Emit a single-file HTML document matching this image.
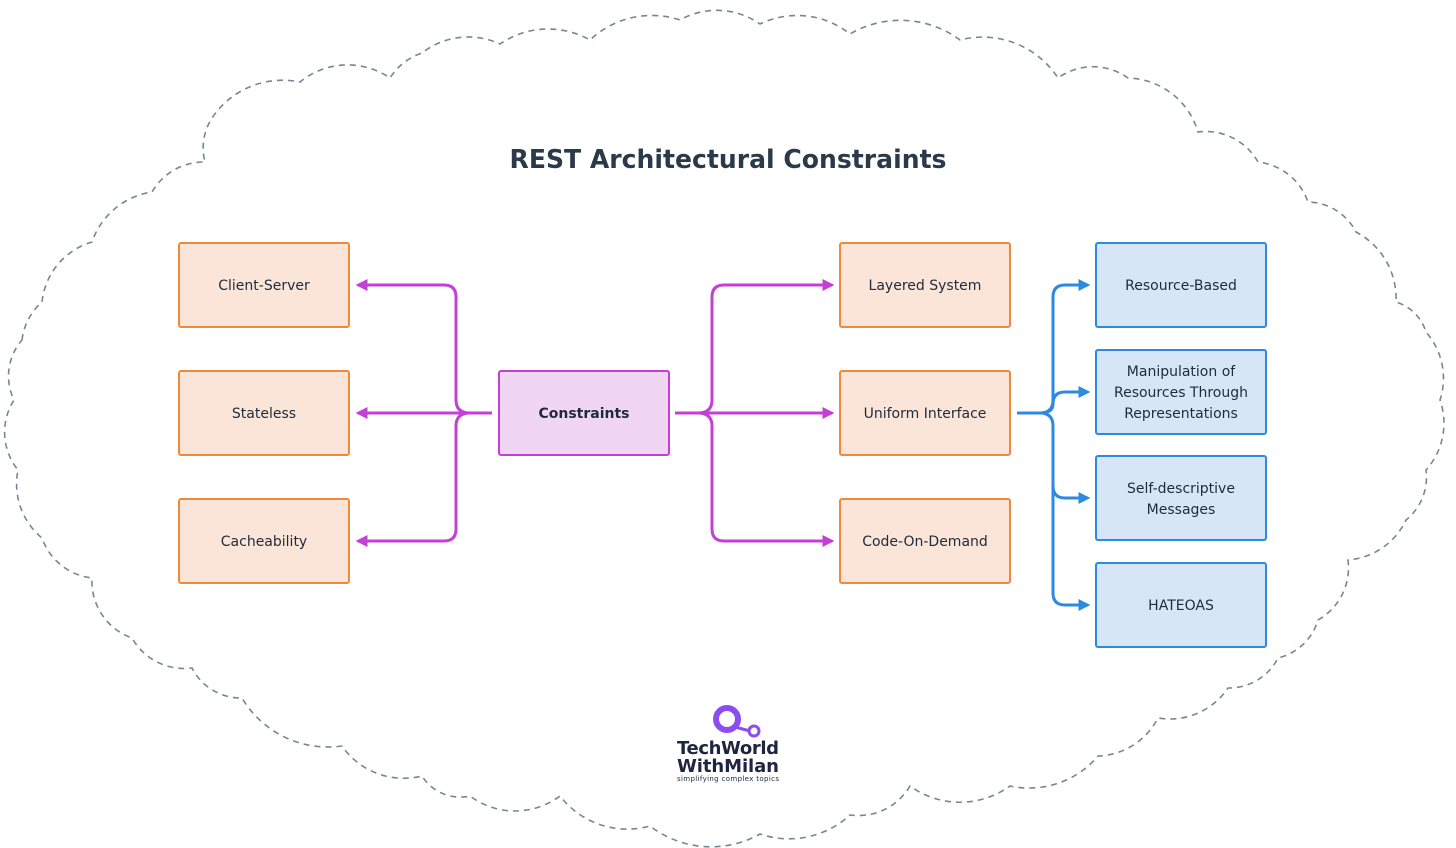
<!DOCTYPE html>
<html><head><meta charset="utf-8"><style>
html,body{margin:0;padding:0;background:#fff;}
svg{display:block;}
text{font-family:"DejaVu Sans","Liberation Sans",sans-serif;fill:#1f2b3a;}
</style></head><body>
<svg width="1456" height="848" viewBox="0 0 1456 848" xmlns="http://www.w3.org/2000/svg">
<defs>
<marker id="ap" viewBox="0 0 10 10" refX="8" refY="5" markerWidth="4" markerHeight="4" orient="auto-start-reverse"><path d="M0,0 L10,5 L0,10 z" fill="#c43fd6"/></marker>
<marker id="ab" viewBox="0 0 10 10" refX="8" refY="5" markerWidth="4" markerHeight="4" orient="auto-start-reverse"><path d="M0,0 L10,5 L0,10 z" fill="#2e8ae0"/></marker>
</defs>
<path fill="none" stroke="#7a8594" stroke-width="1.6" stroke-dasharray="6,5" d="
M22,340 A60,60 0 0 1 42,302 A70,70 0 0 1 92,242 A75,75 0 0 1 152,192 A60,60 0 0 1 205,162 A55,55 0 0 1 212,118 A85,85 0 0 1 300,82 A75,75 0 0 1 390,78 A60,60 0 0 1 422,53 A75,75 0 0 1 500,44 A85,85 0 0 1 590,40 A90,90 0 0 1 680,20 A75,75 0 0 1 760,24 A85,85 0 0 1 850,34 A100,100 0 0 1 960,40 A90,90 0 0 1 1058,78 A60,60 0 0 1 1128,78 A75,75 0 0 1 1198,132 A60,60 0 0 1 1258,162 A60,60 0 0 1 1308,202 A55,55 0 0 1 1356,232 A75,75 0 0 1 1396,302 A45,45 0 0 1 1426,332 A70,70 0 0 1 1440,400 A70,70 0 0 1 1426,470 A55,55 0 0 1 1406,520 A70,70 0 0 1 1348,560 A60,60 0 0 1 1318,620 A55,55 0 0 1 1278,658 A55,55 0 0 1 1228,688 A70,70 0 0 1 1158,718 A70,70 0 0 1 1098,756 A90,90 0 0 1 1010,786 A85,85 0 0 1 910,786 A60,60 0 0 1 850,815 A90,90 0 0 1 760,834 A100,100 0 0 1 650,826 A85,85 0 0 1 560,796 A75,75 0 0 1 470,796 A45,45 0 0 1 422,776 A75,75 0 0 1 342,746 A100,100 0 0 1 242,698 A55,55 0 0 1 192,668 A60,60 0 0 1 132,638 A60,60 0 0 1 92,578 A60,60 0 0 1 42,538 A70,70 0 0 1 18,470 A60,60 0 0 1 14,400 A55,55 0 0 1 22,340 Z"/>
<text x="728" y="168" text-anchor="middle" font-size="26" font-weight="bold" style="fill:#2b3a4a" textLength="437" lengthAdjust="spacingAndGlyphs">REST Architectural Constraints</text>

<g fill="#fae5d8" stroke="#f08a3a" stroke-width="2">
<rect x="179" y="243" width="170" height="84" rx="2"/>
<rect x="179" y="371" width="170" height="84" rx="2"/>
<rect x="179" y="499" width="170" height="84" rx="2"/>
<rect x="840" y="243" width="170" height="84" rx="2"/>
<rect x="840" y="371" width="170" height="84" rx="2"/>
<rect x="840" y="499" width="170" height="84" rx="2"/>
</g>
<rect x="499" y="371" width="170" height="84" rx="2" fill="#f1d6f3" stroke="#c43fd6" stroke-width="2"/>
<g fill="#d6e6f6" stroke="#2e8ae0" stroke-width="2">
<rect x="1096" y="243" width="170" height="84" rx="2"/>
<rect x="1096" y="350" width="170" height="84" rx="2"/>
<rect x="1096" y="456" width="170" height="84" rx="2"/>
<rect x="1096" y="563" width="170" height="84" rx="2"/>
</g>

<g fill="none" stroke="#c43fd6" stroke-width="3">
<path d="M492,413 H358" marker-end="url(#ap)"/>
<path d="M470,413 Q456,413 456,400 V297 Q456,285 444,285 H358" marker-end="url(#ap)"/>
<path d="M470,413 Q456,413 456,426 V529 Q456,541 444,541 H358" marker-end="url(#ap)"/>
<path d="M675,413 H832" marker-end="url(#ap)"/>
<path d="M698,413 Q712,413 712,400 V297 Q712,285 724,285 H832" marker-end="url(#ap)"/>
<path d="M698,413 Q712,413 712,426 V529 Q712,541 724,541 H832" marker-end="url(#ap)"/>
</g>
<g fill="none" stroke="#2e8ae0" stroke-width="3">
<path d="M1017,413 H1040 Q1053,413 1053,400 V297 Q1053,285 1065,285 H1088" marker-end="url(#ab)"/>
<path d="M1040,413 Q1053,413 1053,404 Q1053,392 1065,392 H1088" marker-end="url(#ab)"/>
<path d="M1040,413 Q1053,413 1053,426 V486 Q1053,498 1065,498 H1088" marker-end="url(#ab)"/>
<path d="M1053,480 V593 Q1053,605 1065,605 H1088" marker-end="url(#ab)"/>
</g>

<g font-size="14" text-anchor="middle">
<text x="264" y="290">Client-Server</text>
<text x="264" y="418">Stateless</text>
<text x="264" y="546">Cacheability</text>
<text x="584" y="418" font-weight="bold">Constraints</text>
<text x="925" y="290">Layered System</text>
<text x="925" y="418">Uniform Interface</text>
<text x="925" y="546">Code-On-Demand</text>
<text x="1181" y="290">Resource-Based</text>
<text x="1181" y="376">Manipulation of</text>
<text x="1181" y="397">Resources Through</text>
<text x="1181" y="418">Representations</text>
<text x="1181" y="493">Self-descriptive</text>
<text x="1181" y="514">Messages</text>
<text x="1181" y="610">HATEOAS</text>
</g>

<circle cx="727" cy="719" r="11" fill="none" stroke="#8b4cf0" stroke-width="6"/>
<line x1="735" y1="727" x2="750" y2="731" stroke="#8b4cf0" stroke-width="3"/>
<circle cx="754" cy="731" r="5" fill="#fff" stroke="#8b4cf0" stroke-width="3"/>
<text x="728" y="754" text-anchor="middle" font-size="18" font-weight="bold" style="fill:#1f2540" textLength="102">TechWorld</text>
<text x="728" y="772" text-anchor="middle" font-size="18" font-weight="bold" style="fill:#1f2540" textLength="102">WithMilan</text>
<text x="728" y="781" text-anchor="middle" font-size="7" style="fill:#1f2540" textLength="102">simplifying complex topics</text>
</svg>
</body></html>
